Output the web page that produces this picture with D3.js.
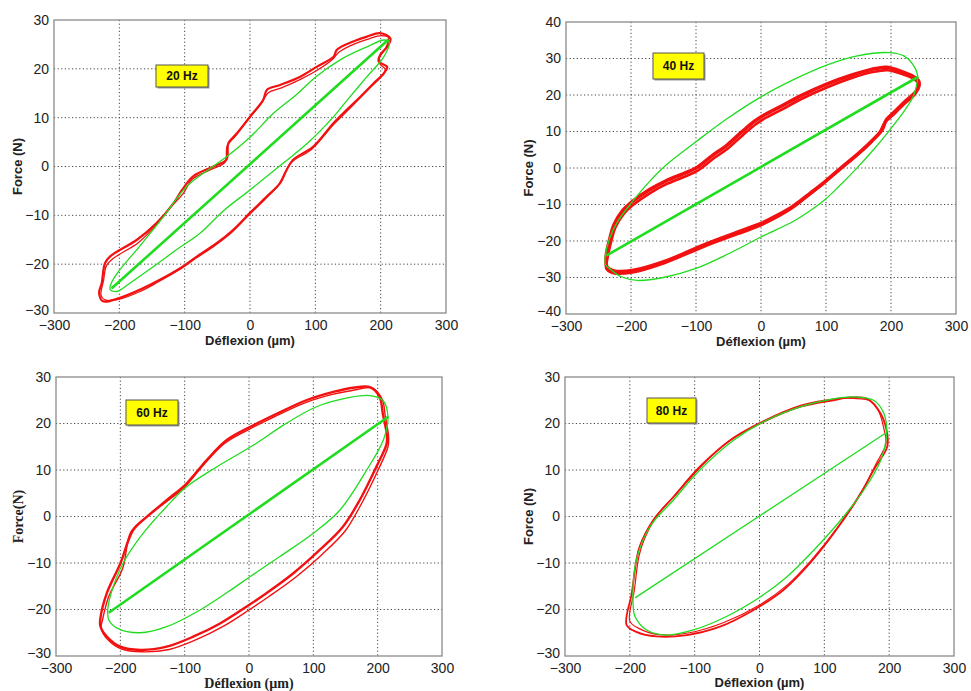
<!DOCTYPE html>
<html><head><meta charset="utf-8">
<script src="https://cdn.jsdelivr.net/npm/d3@7"></script>
<style>body{margin:0;background:#fff}svg{display:block}</style>
</head><body>
<svg id="c" width="971" height="691"></svg>
<script>
// ---------- data ----------
const xTicks = [-300,-200,-100,0,100,200,300];
const yTicks30 = [-30,-20,-10,0,10,20,30];
const yTicks40 = [-40,-30,-20,-10,0,10,20,30,40];
const freqLabels = ["20 Hz","40 Hz","60 Hz","80 Hz"];
const xTitles = ["Déflexion (µm)","Déflexion (µm)","Déflexion (µm)","Déflexion (µm)"];
const yTitles = ["Force (N)","Force (N)","Force(N)","Force (N)"];

// measured loops (red), 20 Hz
const red20a = [[-231,-25.9],[-227,-23.9],[-222,-19.8],[-214,-18.4],[-173,-15],[-143,-11.6],[-117,-7.5],[-104,-4.8],[-87,-2],[-56,0],[-36,1.4],[-33,4.8],[-20,6.8],[0,10.2],[20,13.6],[26,15.7],[46,16.7],[77,18.4],[102,20.4],[128,22.5],[133,23.9],[158,25.6],[179,26.6],[199,27.3],[215,26.2],[210,24.5],[199,22.8],[197,21.5],[210,20.4],[205,19.1],[189,17],[169,14.3],[148,11.6],[128,8.9],[97,4.1],[66,1.4],[56,-0.7],[46,-3.4],[26,-6.1],[0,-9.5],[-26,-13],[-51,-15.7],[-81,-18.4],[-102,-20.4],[-138,-23.2],[-168,-25.2],[-199,-26.9],[-225,-27.6]];
const red20b = [[-228,-26.4],[-224,-23.2],[-220,-20.4],[-210,-18.9],[-171,-15.6],[-145,-12.2],[-120,-8.1],[-102,-5.5],[-89,-2.7],[-58,-0.5],[-38,0.9],[-35,4.2],[-22,6.3],[-2,9.7],[18,13.1],[28,15.1],[48,16.1],[78,17.9],[104,19.8],[126,21.9],[136,23.4],[160,25.1],[181,26.1],[201,26.8],[212,26.4],[207,24.1],[198,22.3],[199,21],[207,19.9],[202,18.6],[186,16.4],[166,13.7],[146,11],[125,8.2],[95,3.6],[64,0.9],[54,-1.2],[43,-3.9],[23,-6.7],[-3,-10.1],[-29,-13.6],[-54,-16.2],[-84,-18.9],[-105,-20.9],[-140,-23.6],[-170,-25.7],[-201,-27.2],[-222,-27.3]];
const green20Ellipse = [[-214,-24.5],[-204,-22],[-170,-16.5],[-132,-10.2],[-97,-4.1],[-60,-0.3],[-36,2],[0,6],[36,10.9],[70,14.6],[102,18.5],[140,22],[179,24.5],[205,25.9],[213,25.5],[205,22.5],[179,18.4],[150,13.8],[128,10.2],[90,5],[51,0.7],[0,-4.8],[-40,-9],[-76,-13.6],[-110,-16.8],[-153,-21],[-185,-24],[-204,-25.6],[-214,-25.2]];
const green20Line = [[-212,-25],[212,26]];

// 40 Hz
const red40a = [[-238,-24],[-232,-19],[-226,-15.5],[-212,-11.5],[-200,-9.5],[-172,-6],[-146,-3.5],[-120,-1.6],[-100,0],[-75,3.4],[-54,6],[-30,9.8],[-10,12.8],[3,14.3],[30,16.8],[60,19.7],[101,23],[140,25.5],[170,27],[193,27.6],[215,26.5],[232,25.3],[242,24],[243,22.5],[238,20.8],[224,18.6],[208,15.8],[193,13.2],[186,10.4],[170,7.3],[150,4],[125,0.3],[100,-3.5],[75,-7],[50,-10.4],[25,-13],[0,-15.2],[-32,-17.3],[-83,-20.7],[-144,-25.3],[-196,-28],[-226,-28.2],[-237,-27.1]];
const red40b = [[-236,-24.6],[-230,-19.8],[-224,-16.3],[-210,-12.3],[-198,-10.3],[-170,-6.8],[-144,-4.3],[-118,-2.4],[-98,-0.8],[-73,2.6],[-52,5.2],[-28,9],[-8,12],[5,13.5],[32,16],[62,18.9],[103,22.2],[142,24.8],[172,26.3],[195,26.8],[216,25.8],[233,24.6],[241,23.4],[241,22],[236,20],[222,17.8],[206,15],[190,12.3],[182,9.6],[166,6.6],[146,3.2],[121,-0.5],[96,-4.3],[71,-7.8],[46,-11.2],[21,-13.8],[-4,-16],[-36,-18.1],[-87,-21.5],[-148,-26],[-198,-28.6],[-227,-28.8],[-238,-27.6]];
const green40Ellipse = [[-240,-25],[-233,-19.3],[-220,-14.5],[-200,-9.7],[-173,-4],[-146,0.8],[-100,7.2],[-54,13.3],[0,19.5],[50,24.2],[101,28.2],[150,30.8],[198,31.6],[220,30.7],[233,28.5],[241,25.2],[238,21.8],[234,19.5],[220,15.5],[198,10.4],[173,5],[146,-0.3],[120,-5],[100,-8.4],[75,-11.8],[50,-14.6],[0,-18.9],[-50,-23.5],[-100,-27.5],[-150,-30],[-190,-30.8],[-215,-29.8],[-230,-28],[-239,-26.5]];
const green40Line = [[-238,-24],[242,25]];

// 60 Hz
const red60a = [[-231,-21.9],[-221,-16.5],[-200,-10.1],[-180,-2.9],[-159,-0.1],[-128,3.5],[-97,7.1],[-66,12.1],[-35,16.4],[2,19.3],[43,22.1],[89,25],[131,26.8],[162,27.7],[188,27.8],[203,25.7],[208,22.1],[214,17.8],[214,15.7],[198,10.7],[172,3.5],[146,-2.2],[110,-7.2],[69,-12.2],[27,-16.5],[-4,-19.4],[-45,-23],[-86,-25.8],[-128,-28],[-169,-28.7],[-200,-28],[-221,-25.8],[-231,-23.6]];
const red60b = [[-228,-22.4],[-218,-17.2],[-196,-11],[-184,-3.4],[-163,-0.6],[-132,2.8],[-101,6.2],[-70,11.2],[-39,15.6],[-2,18.6],[40,21.5],[86,24.4],[128,26.2],[160,27.1],[192,27.6],[207,25.2],[212,21.4],[217,17.2],[216,15],[200,9.8],[175,2.8],[150,-3],[114,-8.1],[73,-13],[31,-17.2],[0,-20.1],[-41,-23.7],[-82,-26.5],[-124,-28.6],[-166,-29.1],[-198,-28.5],[-220,-26.4],[-230,-24]];
const green60Ellipse = [[-219.6,-20.2],[-214.5,-16.6],[-196,-10.1],[-165,-3.7],[-129,2],[-98,6.3],[-51,10.6],[11,15.7],[53,19.6],[105,23.6],[157,25.6],[188,26],[208,25],[216,21.4],[209,16.5],[183,10],[141.5,1.4],[100,-3.6],[48,-8.6],[2,-12.9],[-24,-15.4],[-76,-20.1],[-128,-23.7],[-169,-25],[-205,-24],[-218,-22.2]];
const green60Line = [[-218,-20.7],[217,21.5]];

// 80 Hz
const red80a = [[-205,-23.3],[-197,-16.5],[-190,-9.5],[-185,-6.5],[-164,-0.8],[-133,4.2],[-92,10.7],[-45,16.4],[1,20],[63,23.6],[114,25],[140,25.6],[166,25.3],[187,22.1],[197,17.8],[197,15],[176,10],[156,4.9],[114,-3.7],[73,-10.8],[37,-15.8],[-9,-20.1],[-61,-23.7],[-112,-25.5],[-159,-25.8],[-190,-24.8]];
const red80b = [[-200,-22.5],[-193,-15.8],[-186,-8.6],[-178,-5],[-158,0.2],[-127,5],[-86,11.4],[-40,17],[5,20.5],[66,24],[117,25.3],[145,25.4],[172,24.8],[184,22.6],[192,18.8],[195,15.6],[180,11.4],[160,6],[120,-2.4],[80,-9.4],[44,-14.6],[-2,-19.2],[-55,-22.8],[-108,-25],[-155,-25.4],[-187,-24]];
const green80Ellipse = [[-195,-18.7],[-190,-9.4],[-169,-2.2],[-133,3.5],[-92,10],[-40,16.4],[11,20.7],[63,23.6],[114,25.3],[145,25.7],[176,25],[192,22.1],[196,17.8],[187,12.1],[161,5.7],[125,-0.8],[84,-7.2],[42,-13],[1,-17.3],[-51,-21.5],[-102,-24.4],[-143,-25.5],[-174,-24.4],[-192,-21.5]];
const green80Line = [[-192,-17.5],[193,17.8]];

// ---------- drawing ----------
const svg = d3.select("#c");
svg.append("rect").attr("width",971).attr("height",691).attr("fill","#fff");

const sans = "'Liberation Sans', Arial, sans-serif";
const serif = "'Liberation Serif', 'Times New Roman', serif";

const panels = [
  {box:[54,446,20,313], yTicks:yTicks30, red:[red20a,red20b], redW:[2.2,1.3], ell:green20Ellipse, line:green20Line, lineW:2.6,
   label:[156,65,52,22], xt:340, ytx:17, font:sans},
  {box:[566,956,22,314], yTicks:yTicks40, red:[red40a,red40b], redW:[3.6,2.6], ell:green40Ellipse, line:green40Line, lineW:2.6,
   label:[653,53,51,26], xt:341, ytx:528, font:sans},
  {box:[56,442,377,656], yTicks:yTicks30, red:[red60a,red60b], redW:[2.4,1.4], ell:green60Ellipse, line:green60Line, lineW:2.6,
   label:[126,400,52,25], xt:683, ytx:18, font:serif},
  {box:[565,954,377,656], yTicks:yTicks30, red:[red80a,red80b], redW:[1.8,1.2], ell:green80Ellipse, line:green80Line, lineW:1.3,
   label:[647,398,49,25], xt:682, ytx:528, font:sans}
];

panels.forEach((p,i)=>{
  const [l,r,t,b] = p.box;
  const yMin = d3.min(p.yTicks), yMax = d3.max(p.yTicks);
  const x = d3.scaleLinear().domain([-300,300]).range([l,r]);
  const y = d3.scaleLinear().domain([yMin,yMax]).range([b,t]);
  const g = svg.append("g");

  // grid
  g.selectAll(".gx").data(xTicks.slice(1,-1)).join("line")
    .attr("x1",d=>x(d)).attr("x2",d=>x(d)).attr("y1",t).attr("y2",b)
    .attr("stroke","#444").attr("stroke-width",1).attr("stroke-dasharray","1.2,2.4");
  g.selectAll(".gy").data(p.yTicks.slice(1,-1)).join("line")
    .attr("x1",l).attr("x2",r).attr("y1",d=>y(d)).attr("y2",d=>y(d))
    .attr("stroke","#444").attr("stroke-width",1).attr("stroke-dasharray","1.2,2.4");

  // axes (labels)
  const xa = g.append("g").attr("transform",`translate(0,${b})`)
    .call(d3.axisBottom(x).tickValues(xTicks).tickSize(0).tickPadding(7).tickFormat(d3.format("d")));
  const ya = g.append("g").attr("transform",`translate(${l},0)`)
    .call(d3.axisLeft(y).tickValues(p.yTicks).tickSize(0).tickPadding(5).tickFormat(d3.format("d")));
  [xa,ya].forEach(a=>{
    a.select(".domain").remove();
    a.selectAll("text").attr("font-family",sans).attr("font-size",14).attr("fill","#222");
  });
  ya.selectAll(".tick").filter(d=>d===yMin).select("text").attr("y",-3);

  // clip
  const clipId = "clip"+i;
  svg.append("clipPath").attr("id",clipId).append("rect")
    .attr("x",l).attr("y",t).attr("width",r-l).attr("height",b-t);
  const pg = g.append("g").attr("clip-path",`url(#${clipId})`);

  const loop = d3.line().x(d=>x(d[0])).y(d=>y(d[1])).curve(d3.curveCatmullRomClosed.alpha(0.5));
  p.red.forEach((rd,k)=>{
    pg.append("path").attr("d",loop(rd)).attr("fill","none")
      .attr("stroke","#f21010").attr("stroke-width",p.redW[k]).attr("stroke-linejoin","round");
  });
  pg.append("path").attr("d",loop(p.ell)).attr("fill","none")
    .attr("stroke","#1fdc1f").attr("stroke-width",1.3);
  pg.append("path").attr("d",d3.line().x(d=>x(d[0])).y(d=>y(d[1]))(p.line)).attr("fill","none")
    .attr("stroke","#1fdc1f").attr("stroke-width",p.lineW);

  // frame
  g.append("rect").attr("x",l).attr("y",t).attr("width",r-l).attr("height",b-t)
    .attr("fill","none").attr("stroke","#8a8a8a").attr("stroke-width",1.3);

  // label box
  const [bx,by,bw,bh] = p.label;
  g.append("rect").attr("x",bx+1.5).attr("y",by+1.5).attr("width",bw).attr("height",bh).attr("fill","#999");
  g.append("rect").attr("x",bx).attr("y",by).attr("width",bw).attr("height",bh)
    .attr("fill","#ffff00").attr("stroke","#555").attr("stroke-width",1);
  g.append("text").attr("x",bx+bw/2).attr("y",by+bh/2).attr("dy","0.35em").attr("text-anchor","middle")
    .attr("font-family",sans).attr("font-weight","bold").attr("font-size",12).attr("fill","#111")
    .text(freqLabels[i]);

  // titles
  const fs = p.font===serif ? 14 : 13;
  g.append("text").attr("x",(l+r)/2).attr("y",p.xt).attr("dy","0.35em").attr("text-anchor","middle")
    .attr("font-family",p.font).attr("font-weight","bold").attr("font-size",fs).attr("fill","#222")
    .text(xTitles[i]);
  g.append("text").attr("transform",`translate(${p.ytx},${(t+b)/2}) rotate(-90)`).attr("dy","0.35em")
    .attr("text-anchor","middle").attr("font-family",p.font).attr("font-weight","bold").attr("font-size",fs)
    .attr("fill","#222").text(yTitles[i]);
});
</script>
</body></html>
